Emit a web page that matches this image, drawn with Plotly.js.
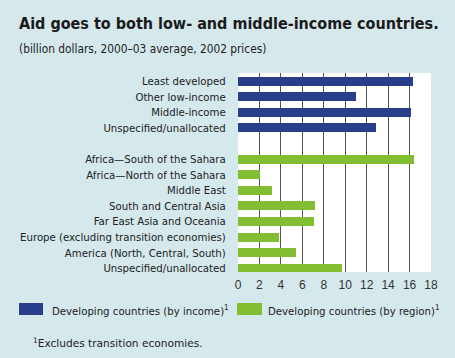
<!DOCTYPE html>
<html>
<head>
<meta charset="utf-8">
<script src="https://cdn.plot.ly/plotly-3.0.1.min.js"></script>
<style>html,body{margin:0;padding:0;background:#d5e8ec;}</style>
</head>
<body>
<div id="chart" style="width:455px;height:358px;"></div>
<script>
// Data
var incomeCategories = ["Least developed", "Other low-income", "Middle-income", "Unspecified/unallocated"];
var incomeValues = [16.35, 11.0, 16.15, 12.9];
var regionCategories = ["Africa\u2014South of the Sahara", "Africa\u2014North of the Sahara", "Middle East",
  "South and Central Asia", "Far East Asia and Oceania", "Europe (excluding transition economies)",
  "America (North, Central, South)", "Unspecified/unallocated"];
var regionValues = [16.45, 2.05, 3.15, 7.15, 7.1, 3.85, 5.45, 9.7];
var xTicks = [0, 2, 4, 6, 8, 10, 12, 14, 16, 18];
var seriesNames = ["Developing countries (by income)<sup>1</sup>", "Developing countries (by region)<sup>1</sup>"];

var W = 455, H = 358, L = 238, R = 24, T = 73, B = 86;
var PW = W - L - R, PH = H - T - B;
function px(x) { return (x - L) / PW; }
function py(y) { return (H - B - y) / PH; }

var incomePos = incomeCategories.map(function (c, i) { return i; });
var regionPos = regionCategories.map(function (c, i) { return incomeCategories.length + 1 + i; });

var narrow = "DejaVu Sans Condensed, sans-serif";
var regular = "Liberation Sans, Arial, sans-serif";
var wide = "DejaVu Sans, sans-serif";
var blue = "#283e8a", green = "#82be32";

var traces = [
  { type: "bar", orientation: "h", x: incomeValues, y: incomePos, width: 0.58,
    marker: { color: blue }, name: seriesNames[0], showlegend: false, hoverinfo: "x" },
  { type: "bar", orientation: "h", x: regionValues, y: regionPos, width: 0.58,
    marker: { color: green }, name: seriesNames[1], showlegend: false, hoverinfo: "x" }
];

var layout = {
  width: W, height: H,
  margin: { l: L, r: R, t: T, b: B, pad: 0 },
  paper_bgcolor: "#d5e8ec", plot_bgcolor: "#ffffff",
  xaxis: { range: [0, 18], tickmode: "array", tickvals: xTicks, ticktext: xTicks.map(String),
    showgrid: false, zeroline: false, showline: false, ticks: "outside", ticklen: 2, tickcolor: "rgba(0,0,0,0)",
    tickfont: { family: regular, size: 12, color: "#333333" },
    minor: { tickmode: "array", tickvals: xTicks.slice(1, xTicks.length - 1), showgrid: true,
      gridcolor: "#555555", gridwidth: 1, ticks: "" },
    fixedrange: true },
  yaxis: { range: [12.24, -0.52], autorange: false, tickmode: "array",
    tickvals: incomePos.concat(regionPos), ticktext: incomeCategories.concat(regionCategories),
    showgrid: false, zeroline: false, showline: false, ticks: "outside", ticklen: 9, tickcolor: "rgba(0,0,0,0)",
    tickfont: { family: narrow, size: 11.3, color: "#222222" }, fixedrange: true },
  bargap: 0,
  showlegend: false,
  annotations: [
    { text: "<b>Aid goes to both low- and middle-income countries.</b>", xref: "paper", yref: "paper",
      x: px(17), y: py(24), xanchor: "left", yanchor: "middle", showarrow: false,
      font: { family: narrow, size: 16, color: "#1a1a1a" } },
    { text: "(billion dollars, 2000\u201303 average, 2002 prices)", xref: "paper", yref: "paper",
      x: px(17), y: py(49), xanchor: "left", yanchor: "middle", showarrow: false,
      font: { family: narrow, size: 11.8, color: "#222222" } },
    { text: seriesNames[0], xref: "paper", yref: "paper", x: px(50), y: py(310), xanchor: "left", yanchor: "middle",
      showarrow: false, font: { family: narrow, size: 11.3, color: "#222222" } },
    { text: seriesNames[1], xref: "paper", yref: "paper", x: px(266), y: py(310), xanchor: "left", yanchor: "middle",
      showarrow: false, font: { family: narrow, size: 11.3, color: "#222222" } },
    { text: "<sup>1</sup>Excludes transition economies.", xref: "paper", yref: "paper", x: px(31), y: py(342),
      xanchor: "left", yanchor: "middle", showarrow: false, font: { family: wide, size: 10.6, color: "#222222" } }
  ],
  shapes: [
    { type: "rect", xref: "paper", yref: "paper", x0: px(19), x1: px(43), y0: py(315), y1: py(303),
      fillcolor: blue, line: { width: 0 } },
    { type: "rect", xref: "paper", yref: "paper", x0: px(237), x1: px(262), y0: py(315), y1: py(303),
      fillcolor: green, line: { width: 0 } }
  ]
};

Plotly.newPlot("chart", traces, layout, { displayModeBar: false, staticPlot: true });
</script>
</body>
</html>
